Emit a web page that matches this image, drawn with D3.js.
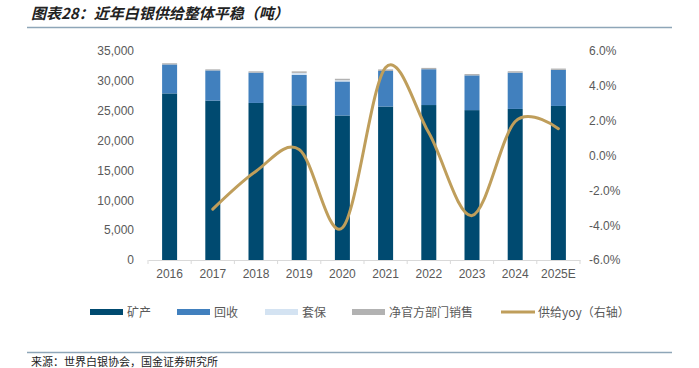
<!DOCTYPE html>
<html>
<head>
<meta charset="utf-8">
<script src="https://cdn.jsdelivr.net/npm/d3@7"></script>
<style>
  body { margin: 0; background: #fff; }
  svg { display: block; }
</style>
</head>
<body>
<div id="chart"></div>
<script>
// data (tonnes)
const years = ["2016", "2017", "2018", "2019", "2020", "2021", "2022", "2023", "2024", "2025E"];
const mine = [27900, 26700, 26300, 25900, 24200, 25700, 25950, 25100, 25300, 25800];
const recycle = [4850, 5050, 5080, 5080, 5700, 5950, 6000, 5820, 6080, 6040];
const hedging = [0, 0, 0, 350, 200, 0, 0, 0, 0, 0];
const govSales = [200, 180, 220, 260, 250, 270, 220, 220, 230, 220];
const yoy = [null, -3.08, -0.9, 0.35, -4.15, 5.05, 1.3, -3.45, 1.95, 1.54];

const leftTicks = [0, 5000, 10000, 15000, 20000, 25000, 30000, 35000];
const rightTicks = [-6, -4, -2, 0, 2, 4, 6];

const seriesNames = ["矿产", "回收", "套保", "净官方部门销售"];
const colors = ["#004A70", "#4180BE", "#D4E3F2", "#B2B2B2"];
const lineColor = "#BF9E5B";

const conf = {
  width: 699, height: 368,
  marginLeft: 148, marginRight: 119, marginTop: 51, marginBottom: 108
};

const svg = d3.select("#chart").append("svg")
  .attr("width", conf.width)
  .attr("height", conf.height)
  .attr("viewBox", [0, 0, conf.width, conf.height]);

// title
svg.append("text")
  .attr("x", 31).attr("y", 19)
  .attr("font-family", "'Noto Sans CJK SC', sans-serif")
  .attr("font-size", 15).attr("font-weight", "bold").attr("font-style", "italic")
  .attr("fill", "#222")
  .text("图表28：近年白银供给整体平稳（吨）");
svg.append("line")
  .attr("x1", 27).attr("x2", 672).attr("y1", 27.5).attr("y2", 27.5)
  .attr("stroke", "#8EA6B8").attr("stroke-width", 1.5);

const x = d3.scaleBand(years, [conf.marginLeft, conf.width - conf.marginRight]);
const y = d3.scaleLinear([0, 35000], [conf.height - conf.marginBottom, conf.marginTop]);
const yR = d3.scaleLinear([-6, 6], [conf.height - conf.marginBottom, conf.marginTop]);

const font = "'Liberation Sans', Arial, sans-serif";

// left axis
const yAxis = d3.axisLeft(y).tickValues(leftTicks).tickFormat(d3.format(",")).tickSize(0).tickPadding(0);
svg.append("g")
  .attr("transform", `translate(134,0)`)
  .call(yAxis)
  .call(g => g.select(".domain").remove())
  .call(g => g.selectAll("text").attr("font-family", font).attr("font-size", 12).attr("fill", "#595959"));

// right axis
const yAxisR = d3.axisRight(yR).tickValues(rightTicks).tickFormat(d => d.toFixed(1) + "%").tickSize(0).tickPadding(0);
svg.append("g")
  .attr("transform", `translate(589,0)`)
  .call(yAxisR)
  .call(g => g.select(".domain").remove())
  .call(g => g.selectAll("text").attr("font-family", font).attr("font-size", 12).attr("fill", "#595959"));

// stacked bars
const table = years.map((yr, i) => ({ year: yr, s0: mine[i], s1: recycle[i], s2: hedging[i], s3: govSales[i] }));
const stack = d3.stack().keys(["s0", "s1", "s2", "s3"])(table);
const bw = 15;
svg.append("g").selectAll("g")
  .data(stack)
  .join("g")
  .attr("fill", (d, i) => colors[i])
  .selectAll("rect")
  .data(d => d)
  .join("rect")
  .attr("x", d => x(d.data.year) + x.bandwidth() / 2 - bw / 2)
  .attr("width", bw)
  .attr("y", d => y(d[1]))
  .attr("height", d => y(d[0]) - y(d[1]));

// x axis
const xAxis = d3.axisBottom(x).tickSize(0).tickPadding(9);
const gx = svg.append("g")
  .attr("transform", `translate(0,${conf.height - conf.marginBottom})`)
  .call(xAxis);
gx.select(".domain").attr("stroke", "#D9D9D9");
gx.selectAll("text").attr("font-family", font).attr("font-size", 12).attr("fill", "#595959");
gx.selectAll(".sep")
  .data(d3.range(years.length + 1))
  .join("line")
  .attr("x1", i => conf.marginLeft + i * x.step()).attr("x2", i => conf.marginLeft + i * x.step())
  .attr("y1", 0).attr("y2", 4)
  .attr("stroke", "#D9D9D9");

// yoy line
const pts = years.map((yr, i) => [yr, yoy[i]]).filter(d => d[1] != null);
const line = d3.line()
  .curve(d3.curveCardinal.tension(0))
  .x(d => x(d[0]) + x.bandwidth() / 2)
  .y(d => yR(d[1]));
svg.append("path")
  .attr("d", line(pts))
  .attr("fill", "none")
  .attr("stroke", lineColor)
  .attr("stroke-width", 3)
  .attr("stroke-linecap", "round");

// legend
const cjk = "'Noto Sans CJK SC', sans-serif";
const legendX = [90, 177, 265, 352];
const lg = svg.append("g");
seriesNames.forEach((name, i) => {
  lg.append("rect")
    .attr("x", legendX[i]).attr("y", 309).attr("width", 33).attr("height", 6)
    .attr("fill", colors[i]);
  lg.append("text")
    .attr("x", legendX[i] + 37).attr("y", 316.5)
    .attr("font-family", cjk).attr("font-size", 12).attr("fill", "#595959")
    .text(name);
});
lg.append("line")
  .attr("x1", 501).attr("x2", 535).attr("y1", 312).attr("y2", 312)
  .attr("stroke", lineColor).attr("stroke-width", 3);
lg.append("text")
  .attr("x", 538).attr("y", 316.5)
  .attr("font-family", cjk).attr("font-size", 12).attr("fill", "#595959")
  .text("供给yoy（右轴）");

// source
svg.append("line")
  .attr("x1", 27).attr("x2", 672).attr("y1", 352.5).attr("y2", 352.5)
  .attr("stroke", "#8EA6B8").attr("stroke-width", 1.5);
svg.append("text")
  .attr("x", 31).attr("y", 366)
  .attr("font-family", cjk).attr("font-size", 11).attr("fill", "#222")
  .text("来源：世界白银协会，国金证券研究所");
</script>
</body>
</html>
